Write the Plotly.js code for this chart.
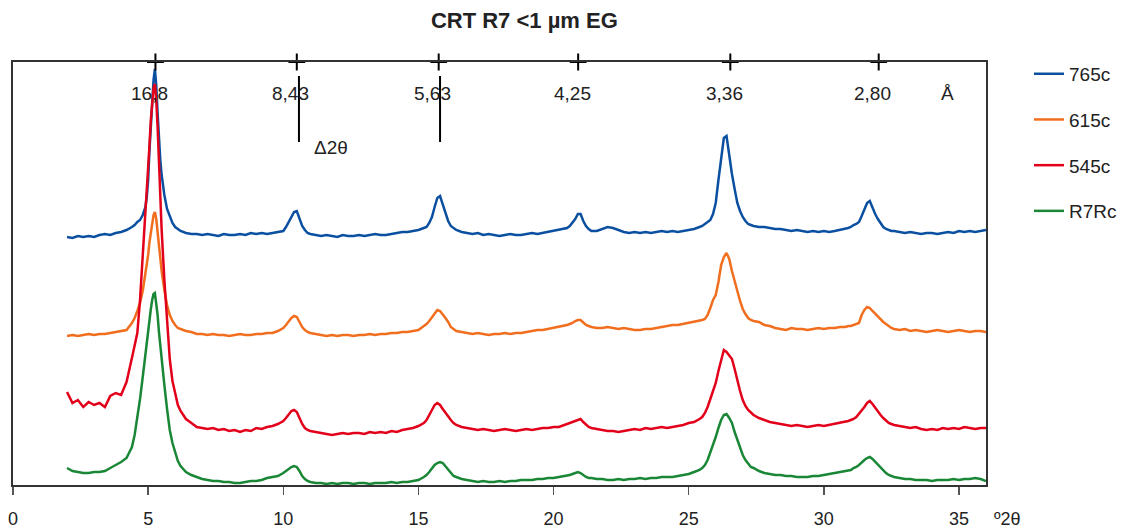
<!DOCTYPE html>
<html>
<head>
<meta charset="utf-8">
<script src="https://cdn.plot.ly/plotly-3.0.1.min.js"></script>
<style>html,body{margin:0;padding:0;background:#fff;}#chart{width:1124px;height:528px;}</style>
</head>
<body>
<div id="chart"></div>
<script>
// 2θ positions (degrees)
const twoTheta = [
  2.0,2.2,2.4,2.6,2.8,3.0,3.2,3.4,3.6,3.8,4.0,4.2,4.4,
  4.5,4.6,4.7,4.8,4.9,4.95,5.0,5.05,5.1,5.15,5.2,5.25,5.3,5.35,5.4,5.45,5.5,5.6,5.7,5.8,5.9,6.0,6.1,6.2,
  6.4,6.6,6.8,7.0,7.2,7.4,7.6,7.8,8.0,8.2,8.4,8.6,8.8,9.0,9.2,9.4,9.6,9.8,10.0,
  10.1,10.2,10.3,10.4,10.5,10.6,10.7,10.8,10.9,11.0,
  11.2,11.4,11.6,11.8,12.0,12.2,12.4,12.6,12.8,13.0,13.2,13.4,13.6,13.8,14.0,14.2,14.4,14.6,14.8,15.0,15.2,
  15.3,15.4,15.5,15.6,15.7,15.8,15.9,16.0,16.1,16.2,16.3,16.4,
  16.6,16.8,17.0,17.2,17.4,17.6,17.8,18.0,18.2,18.4,18.6,18.8,19.0,19.2,19.4,19.6,19.8,20.0,20.2,20.4,
  20.5,20.6,20.7,20.8,20.9,21.0,21.1,21.2,21.3,21.4,
  21.6,21.8,22.0,22.2,22.4,22.6,22.8,23.0,23.2,23.4,23.6,23.8,24.0,24.2,24.4,24.6,24.8,25.0,25.2,25.4,
  25.5,25.6,25.7,25.8,25.9,26.0,26.1,26.2,26.3,26.4,26.5,26.6,26.7,26.8,26.9,27.0,27.1,27.2,27.3,27.4,
  27.6,27.8,28.0,28.2,28.4,28.6,28.8,29.0,29.2,29.4,29.6,29.8,30.0,30.2,30.4,30.6,30.8,
  30.9,31.0,31.1,31.2,31.3,31.4,31.5,31.6,31.7,31.8,31.9,32.0,32.1,32.2,32.3,32.4,32.5,32.6,
  32.8,33.0,33.2,33.4,33.6,33.8,34.0,34.2,34.4,34.6,34.8,35.0,35.2,35.4,35.6,35.8,36.0
];

// Intensities (offset stacked, arbitrary units)
const i765c = [
  248,247,249,248,249,248,250,251,250,252,253,255,258,
  260,263,265,270,278,288,305,335,360,385,405,416,400,372,345,325,310,290,276,268,262,258,256,254,
  252,251,251,250,251,250,249,251,250,250,251,250,252,251,252,251,252,253,254,
  258,263,269,273,274,266,259,255,252,251,
  250,249,250,249,248,250,249,249,250,249,250,251,250,250,251,252,253,253,254,255,257,
  258,262,268,278,287,289,281,271,264,259,257,255,
  253,252,251,252,250,251,250,249,250,251,250,250,251,252,251,252,253,254,255,256,
  257,259,262,266,271,271,264,259,256,254,
  254,256,258,257,255,253,252,253,252,253,252,253,254,253,254,253,254,255,256,258,
  259,261,263,265,271,282,305,328,347,349,329,311,296,282,274,268,264,261,260,259,
  258,258,257,256,256,255,254,255,254,253,254,253,254,253,254,255,256,
  257,258,260,261,263,269,276,282,284,277,271,266,262,258,256,255,254,254,
  253,252,253,252,251,252,252,251,252,253,252,254,253,254,253,254,255
];
const i615c = [
  149,150,149,150,151,150,151,151,152,153,154,155,162,
  167,174,182,194,210,220,230,243,253,262,270,273,266,253,238,225,214,195,180,170,164,160,157,156,
  154,153,151,151,150,151,150,150,149,150,151,150,150,151,151,152,152,154,157,
  160,164,167,169,168,163,158,155,153,152,
  151,150,149,150,149,150,150,149,150,150,151,150,151,151,152,152,153,153,154,155,159,
  161,164,168,172,175,174,171,167,163,158,156,154,
  153,152,151,152,151,150,151,151,152,151,152,152,153,154,155,155,156,157,158,159,
  160,161,162,164,165,165,162,160,159,158,
  157,157,158,157,156,157,156,155,155,156,156,157,158,159,160,160,161,162,163,164,
  165,166,170,177,185,190,203,220,228,232,226,214,205,194,184,176,171,167,165,164,
  163,160,159,157,156,155,157,156,156,155,156,157,156,157,157,158,158,
  159,159,160,161,162,170,175,178,177,174,171,168,166,163,161,159,157,156,
  155,156,154,155,154,153,154,155,154,153,154,155,154,153,154,154,153
];
const i545c = [
  93,82,85,78,83,80,82,78,89,92,90,103,127,
  138,152,185,228,270,288,315,340,365,385,397,401,385,358,318,290,255,205,162,126,104,91,80,74,
  66,62,58,57,56,57,55,56,54,55,53,55,54,57,56,58,59,61,64,
  67,71,74,75,73,67,61,57,55,54,
  53,52,51,50,51,52,51,52,52,51,53,52,53,52,54,53,55,56,57,59,62,
  65,70,75,80,82,80,76,72,68,65,62,60,
  58,57,56,55,56,55,54,55,56,55,54,55,56,55,56,57,57,58,58,60,
  61,62,63,64,65,66,63,60,58,57,
  56,55,54,54,53,54,55,56,55,57,56,57,58,57,58,59,60,62,63,66,
  68,72,78,86,93,102,114,126,135,133,130,126,116,104,94,85,79,75,72,70,
  67,65,63,62,61,60,59,60,59,58,59,60,59,60,61,62,63,
  64,65,66,68,71,75,78,82,84,81,77,74,70,67,64,62,61,60,
  59,58,57,58,56,55,56,55,57,56,57,56,58,57,56,57,57
];
const iR7Rc = [
  17,14,13,12,12,13,13,14,17,20,23,27,38,
  50,66,86,108,133,145,155,167,176,185,191,192,182,170,153,138,127,100,76,55,42,32,24,19,
  13,10,8,6,5,4,4,3,3,2,2,3,4,4,5,7,8,9,12,
  14,16,18,19,18,14,9,6,4,3,
  2,2,1,2,1,2,2,1,2,2,1,2,2,2,3,2,3,3,4,5,8,
  10,13,17,20,22,23,22,19,16,12,9,8,
  6,5,4,3,4,3,3,4,3,4,4,5,5,5,6,6,7,7,8,9,
  9,10,11,12,13,12,10,8,7,7,
  6,6,5,5,6,5,6,6,7,6,7,7,8,8,8,9,10,11,13,15,
  17,20,25,32,40,48,57,65,70,71,67,62,53,45,37,30,25,21,18,17,
  14,12,11,10,10,9,9,8,8,8,9,9,10,11,12,13,14,
  14,15,17,18,20,23,25,27,28,26,23,20,17,14,12,10,9,8,
  7,6,6,5,5,5,4,5,5,5,6,5,6,6,7,6,4
];

const seriesNames = ['765c', '615c', '545c', 'R7Rc'];
const seriesValues = [i765c, i615c, i545c, iR7Rc];
const seriesColors = ['#0b50a0', '#f06e1e', '#e2001a', '#1a8736'];

// d-spacing reference marks (Å) and their 2θ positions
const dLabels = ['16,8', '8,43', '5,63', '4,25', '3,36', '2,80'];
const dPos = [5.27, 10.5, 15.75, 20.91, 26.54, 32.03];
// Δ2θ marker lines
const deltaX = [10.58, 15.8];
const deltaY = [343, 409];

const yMax = 423;

const traces = seriesNames.map((name, k) => ({
  type: 'scatter', mode: 'lines', name: name,
  x: twoTheta, y: seriesValues[k],
  line: {color: seriesColors[k], width: 2.5},
  legendgroup: name,
  hoverinfo: 'x+y+name'
}));

traces.push({
  type: 'scatter', mode: 'markers', showlegend: false, hoverinfo: 'skip',
  x: dPos, y: dPos.map(() => yMax), cliponaxis: false,
  marker: {symbol: 'cross-thin', size: 12, color: '#000', line: {width: 2, color: '#000'}}
});

const annotations = dLabels.map((t, i) => ({
  x: dPos[i], y: yMax, xref: 'x', yref: 'y', text: t, showarrow: false,
  xshift: -6, yshift: -31, xanchor: 'center', yanchor: 'middle',
  font: {size: 19, color: '#222'}
}));
annotations.push({x: 0.960, y: 0.9267, xref: 'paper', yref: 'paper', text: 'Å', showarrow: false,
  xanchor: 'center', yanchor: 'middle', font: {size: 19, color: '#222'}});
annotations.push({x: 0.327, y: 0.799, xref: 'paper', yref: 'paper', text: 'Δ2θ', showarrow: false,
  xanchor: 'center', yanchor: 'middle', font: {size: 19, color: '#222'}});
annotations.push({x: 1.022, y: -0.080, xref: 'paper', yref: 'paper', text: 'º2θ', showarrow: false,
  xanchor: 'center', yanchor: 'middle', font: {size: 18, color: '#222'}});

const shapes = deltaX.map(x => ({
  type: 'line', xref: 'x', yref: 'y', x0: x, x1: x, y0: deltaY[0], y1: deltaY[1],
  line: {color: '#000', width: 2}
}));

const layout = {
  width: 1124, height: 528,
  margin: {l: 13, r: 138, t: 62, b: 43},
  paper_bgcolor: '#ffffff', plot_bgcolor: '#ffffff',
  font: {family: '"Liberation Sans", Arial, sans-serif', size: 18, color: '#222'},
  title: {
    text: 'CRT R7 &lt;1 µm EG',
    font: {size: 22, color: '#222', weight: 'bold'},
    x: 0.4665, xref: 'container', xanchor: 'center',
    y: 0.962, yref: 'container', yanchor: 'middle'
  },
  xaxis: {
    range: [0, 36], tick0: 0, dtick: 5,
    ticks: 'outside', ticklen: 8, tickwidth: 1.5, tickcolor: '#555',
    showline: true, linecolor: '#333', linewidth: 2, mirror: true,
    showgrid: false, zeroline: false,
    ticklabelstandoff: 8,
    tickfont: {size: 18, color: '#222'}
  },
  yaxis: {
    range: [0, yMax], showticklabels: false, ticks: '',
    showline: true, linecolor: '#333', linewidth: 2, mirror: true,
    showgrid: false, zeroline: false
  },
  showlegend: true,
  legend: {
    xref: 'container', yref: 'container',
    x: 0.9155, y: 0.896, xanchor: 'left', yanchor: 'top',
    font: {size: 19, color: '#222'},
    tracegroupgap: 18, bgcolor: 'rgba(0,0,0,0)', borderwidth: 0
  },
  annotations: annotations,
  shapes: shapes
};

Plotly.newPlot('chart', traces, layout, {displayModeBar: false, staticPlot: true});
</script>
</body>
</html>
